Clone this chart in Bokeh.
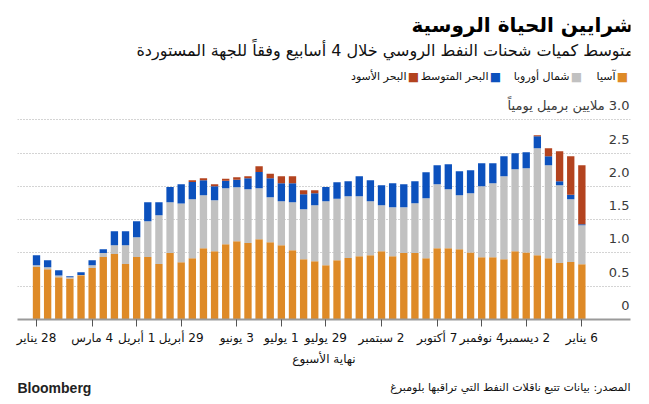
from bokeh.plotting import figure
from bokeh.layouts import column
from bokeh.models import FixedTicker, Label, ColumnDataSource, Range1d, Grid
from bokeh.embed import file_html
from bokeh.resources import INLINE
from bokeh.core.properties import value

# ---------------- data (million barrels per day, 4-week average) ----------------
weeks = list(range(50))
asia = [0.79, 0.755, 0.635, 0.615, 0.665, 0.775, 0.94, 0.985, 0.835, 0.94,
        0.94, 0.835, 1.0, 0.86, 0.92, 1.07, 1.025, 1.13, 1.175, 1.15,
        1.205, 1.16, 1.115, 1.04, 0.905, 0.875, 0.815, 0.89, 0.925, 0.95,
        0.965, 1.025, 0.95, 1.0, 1.0, 0.92, 1.07, 1.07, 1.055, 1.005,
        0.935, 0.935, 0.905, 1.025, 1.005, 0.965, 0.92, 0.85, 0.865, 0.83]
north_europe = [0.025, 0.03, 0.025, 0.02, 0.005, 0.04, 0.06, 0.13, 0.28, 0.295,
                0.535, 0.73, 0.76, 0.88, 0.885, 0.795, 0.765, 0.84, 0.81, 0.805,
                0.765, 0.675, 0.66, 0.72, 0.75, 0.84, 0.96, 0.925, 0.925, 0.9,
                0.81, 0.69, 0.735, 0.685, 0.745, 0.9, 0.96, 0.885, 0.81, 0.89,
                1.065, 1.11, 1.245, 1.23, 1.265, 1.605, 1.395, 1.165, 0.94, 0.585]
mediterranean = [0.15, 0.105, 0.08, 0.015, 0.04, 0.075, 0.055, 0.21, 0.21, 0.24,
                 0.285, 0.195, 0.23, 0.29, 0.26, 0.225, 0.21, 0.115, 0.115, 0.165,
                 0.245, 0.285, 0.27, 0.285, 0.225, 0.18, 0.215, 0.245, 0.225, 0.3,
                 0.315, 0.3, 0.36, 0.345, 0.33, 0.39, 0.285, 0.375, 0.36, 0.345,
                 0.345, 0.3, 0.3, 0.24, 0.24, 0.18, 0.135, 0.06, 0.07, 0.015]
black_sea = [0, 0, 0, 0, 0, 0, 0, 0, 0, 0,
             0, 0, 0, 0, 0.025, 0.03, 0.03, 0.03, 0.035, 0.03,
             0.085, 0.07, 0.105, 0.105, 0.06, 0.045, 0, 0, 0, 0,
             0, 0, 0, 0, 0, 0, 0, 0, 0, 0,
             0, 0, 0, 0, 0, 0.015, 0.12, 0.45, 0.575, 0.885]

tick_weeks = [0, 5, 9, 13, 18, 22, 26, 31, 36, 40, 44, 49]
tick_labels = ["28 يناير", "4 مارس", "1 أبريل", "29 أبريل", "3 يونيو", "1 يوليو",
               "29 يوليو", "2 سبتمبر", "7 أكتوبر", "4 نوفمبر", "2 ديسمبر", "6 يناير"]

y_ticks = [0, 0.5, 1.0, 1.5, 2.0, 2.5, 3.0]
y_tick_labels = ["0", "0.5", "1.0", "1.5", "2.0", "2.5", "3.0 ملايين برميل يومياً"]

series_names = ["آسيا", "شمال أوروبا", "البحر المتوسط", "البحر الأسود"]
colors = ["#DE8A27", "#C1C1C1", "#0C51BD", "#B3431F"]

title = "شرايين الحياة الروسية"
subtitle = "متوسط كميات شحنات النفط الروسي خلال 4 أسابيع وفقاً للجهة المستوردة"
x_title = "نهاية الأسبوع"
source_text = "المصدر: بيانات تتبع ناقلات النفط التي تراقبها بلومبرغ"
brand = "Bloomberg"

FONT = "DejaVu Sans"
RLM = "\u200f"

# ---------------- main figure ----------------
X0, X1 = -1.707, 53.37
p = figure(width=649, height=372, output_backend="svg", toolbar_location=None,
           x_range=Range1d(X0, X1), y_range=Range1d(0, 4.79),
           y_axis_location=None,
           min_border_left=17, min_border_right=19, min_border_top=0, min_border_bottom=53)
p.outline_line_color = None
p.grid.visible = False

grid = Grid(dimension=1, ticker=FixedTicker(ticks=y_ticks[1:]),
            grid_line_color="#A8A8A8", grid_line_dash="1 2", grid_line_width=1)
p.add_layout(grid)

src = ColumnDataSource(dict(x=weeks, asia=asia, north=north_europe,
                            med=mediterranean, black=black_sea))
p.vbar_stack(["asia", "north", "med", "black"], x="x", width=0.66, color=colors,
             line_color=None, source=src)

# y tick labels sitting above grid lines (right-to-left text)
ysrc = ColumnDataSource(dict(x=[X1] * len(y_ticks), y=y_ticks,
                             t=[RLM + t for t in y_tick_labels]))
p.text(x="x", y="y", text="t", source=ysrc, text_align="right", text_baseline="middle",
       x_offset=-1, y_offset=-14, text_font=value(FONT), text_font_size="13px",
       text_color="#3A3A3A")

# x axis
ax = p.xaxis[0]
ax.ticker = FixedTicker(ticks=tick_weeks)
ax.major_label_overrides = {w: RLM + l for w, l in zip(tick_weeks, tick_labels)}
ax.axis_line_color = "#9A9A9A"
ax.axis_line_width = 2
ax.major_tick_line_color = "#555555"
ax.major_tick_in = 0
ax.major_tick_out = 7
ax.minor_tick_line_color = None
ax.major_label_standoff = 4
ax.major_label_text_font = FONT
ax.major_label_text_font_size = "12px"
ax.major_label_text_color = "#111111"
ax.axis_label = x_title
ax.axis_label_text_font = FONT
ax.axis_label_text_font_style = "normal"
ax.axis_label_text_font_size = "12px"
ax.axis_label_text_color = "#111111"
ax.axis_label_standoff = 4

# ---------------- header texts (screen units relative to plot frame) ----------------
def lab(fig, text, x, y, size, align="right", bold=False, color="#111111",
        font=FONT, units="screen"):
    fig.add_layout(Label(x=x, y=y, x_units=units, y_units=units, text=text,
                         text_align=align, text_baseline="middle",
                         text_font=font, text_font_size=size,
                         text_font_style="bold" if bold else "normal",
                         text_color=color))

# frame left = 17 px, frame bottom = 319 px in page coordinates
lab(p, title, 616, 295, "20px", bold=True, color="#000000")
lab(p, subtitle, 616, 269, "16px", color="#111111")

leg_sq_x = [605, 559, 478, 396]
leg_tx_x = [598, 552, 471, 389]
for name, col, sx, tx in zip(series_names, colors, leg_sq_x, leg_tx_x):
    lab(p, "■", sx, 243, "12px", align="center", color=col)
    lab(p, name, tx, 243, "11px", color="#111111")

# ---------------- footer (its frame is aligned with the main frame: page x 17..630) ----------------
f = figure(width=649, height=32, output_backend="svg", toolbar_location=None,
           x_range=Range1d(17, 630), y_range=Range1d(0, 32),
           x_axis_location=None, y_axis_location=None,
           min_border=0, min_border_left=17, min_border_right=19,
           min_border_top=0, min_border_bottom=0)
f.outline_line_color = None
f.grid.visible = False
lab(f, source_text, 630, 17, "11px", color="#111111", units="data")
lab(f, brand, 17, 17, "14px", align="left", bold=True, color="#222222",
    font="Liberation Sans", units="data")

layout = column(p, f, spacing=0)
open("out.html", "w").write(file_html(layout, INLINE))
